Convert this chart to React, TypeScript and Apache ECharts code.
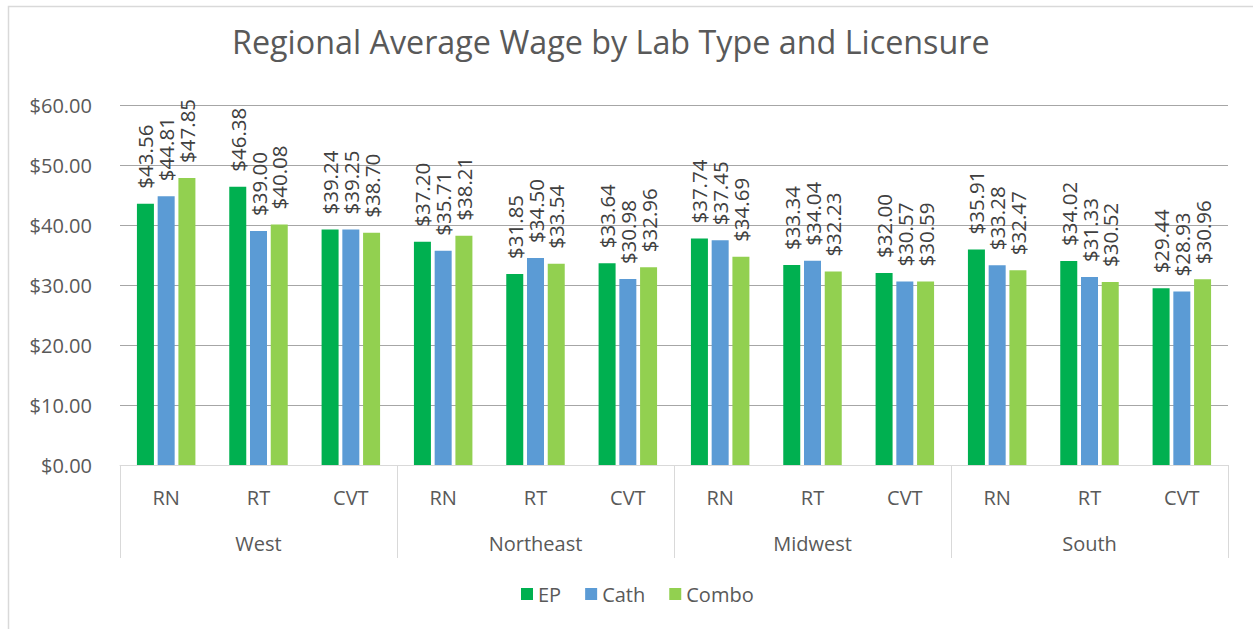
import React, { useEffect, useRef } from "react";
import * as echarts from "echarts";

const regions = ["West", "Northeast", "Midwest", "South"];
const licensures = ["RN", "RT", "CVT"];
const categories = regions.flatMap(() => licensures);
const seriesNames = ["EP", "Cath", "Combo"];
const epValues = [43.56, 46.38, 39.24, 37.2, 31.85, 33.64, 37.74, 33.34, 32.0, 35.91, 34.02, 29.44];
const cathValues = [44.81, 39.0, 39.25, 35.71, 34.5, 30.98, 37.45, 34.04, 30.57, 33.28, 31.33, 28.93];
const comboValues = [47.85, 40.08, 38.7, 38.21, 33.54, 32.96, 34.69, 32.23, 30.59, 32.47, 30.52, 30.96];
const colors = ["#00B050", "#5B9BD5", "#92D050"];

const FONT = "Open Sans";

export default function App() {
  const ref = useRef<HTMLDivElement>(null);
  useEffect(() => {
    if (!ref.current) return;
    const chart = echarts.init(ref.current, null, { renderer: "svg" });
    const values = [epValues, cathValues, comboValues];
    chart.setOption({
      animation: false,
      backgroundColor: "#FFFFFF",
      textStyle: { fontFamily: FONT },
      title: {
        text: "Regional Average Wage by Lab Type and Licensure",
        left: 227,
        top: 20,
        textStyle: { fontFamily: FONT, fontSize: 32.3, fontWeight: "normal", color: "#595959" },
      },
      graphic: [
        {
          type: "rect",
          shape: { x: 8.5, y: 6.5, width: 1400, height: 800 },
          style: { fill: "none", stroke: "#D9D9D9", lineWidth: 1.5 },
          silent: true,
        },
      ],
      legend: {
        data: seriesNames,
        bottom: 20,
        left: 516,
        itemWidth: 12,
        itemHeight: 12,
        itemGap: 24,
        icon: "rect",
        textStyle: { fontFamily: FONT, fontSize: 20, color: "#595959" },
      },
      grid: { left: 120, right: 25, top: 105, bottom: 164, containLabel: false },
      xAxis: [
        {
          type: "category",
          data: categories,
          position: "bottom",
          axisLine: { show: true, lineStyle: { color: "#D9D9D9", width: 1 } },
          axisTick: { show: false },
          axisLabel: { margin: 22, fontFamily: FONT, fontSize: 20, color: "#595959", interval: 0 },
        },
        {
          type: "category",
          data: regions,
          position: "bottom",
          axisLine: { show: false },
          axisTick: { show: true, length: 93, lineStyle: { color: "#D9D9D9", width: 1 } },
          axisLabel: { margin: 68, fontFamily: FONT, fontSize: 20, color: "#595959", interval: 0 },
          splitLine: { show: false },
        },
      ],
      yAxis: {
        type: "value",
        min: 0,
        max: 60,
        interval: 10,
        axisLine: { show: false },
        axisTick: { show: false },
        axisLabel: {
          margin: 28,
          fontFamily: FONT,
          fontSize: 20,
          color: "#595959",
          formatter: (v: number) => "$" + v.toFixed(2),
        },
        splitLine: { lineStyle: { color: "#A6A6A6", width: 1 } },
      },
      series: seriesNames.map((name, i) => ({
        name,
        type: "bar",
        xAxisIndex: 0,
        data: values[i],
        barWidth: 17,
        barGap: "22%",
        itemStyle: { color: colors[i] },
        label: {
          show: true,
          position: "top",
          rotate: 90,
          align: "left",
          verticalAlign: "middle",
          distance: 15,
          fontFamily: FONT,
          fontSize: 20.5,
          color: "#404040",
          formatter: (p: any) => "$" + Number(p.value).toFixed(2),
        },
      })),
    });
    return () => chart.dispose();
  }, []);
  return (
    <div
      ref={ref}
      style={{ position: "absolute", left: 0, top: 0, width: 1253, height: 629 }}
    />
  );
}
